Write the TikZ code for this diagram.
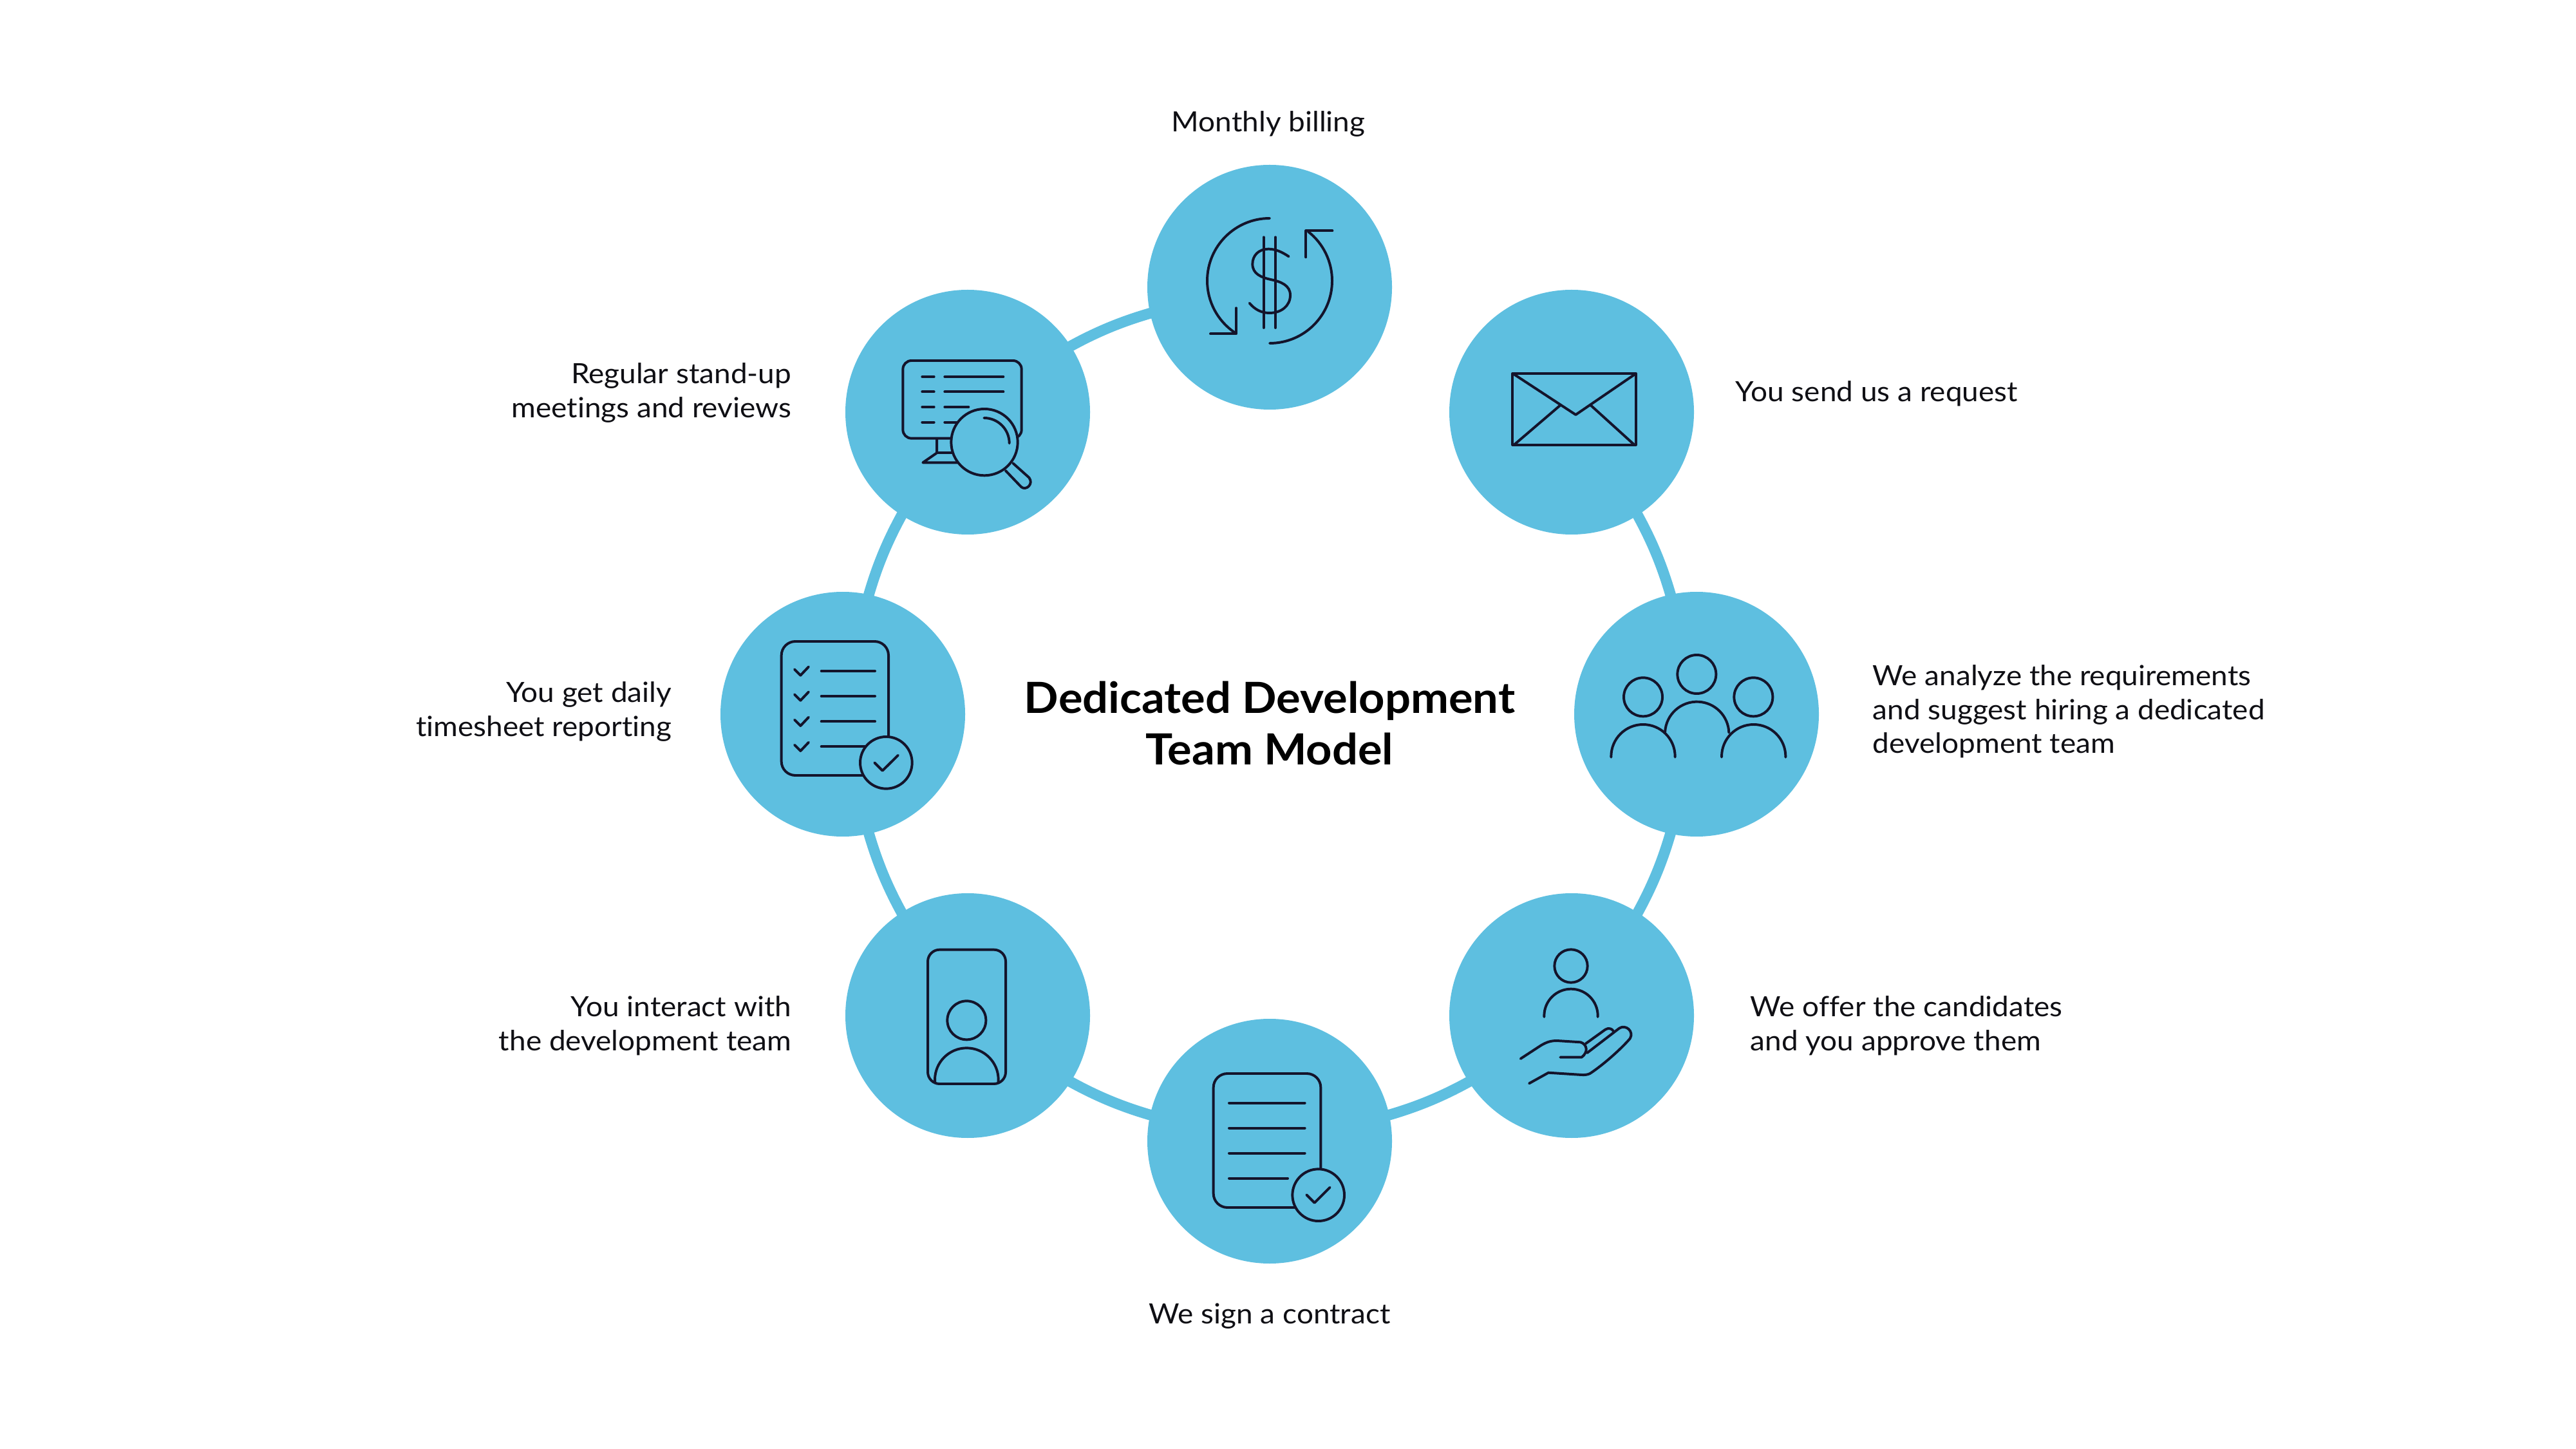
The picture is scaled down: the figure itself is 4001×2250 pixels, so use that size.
\documentclass[tikz,border=0pt]{standalone}
\usepackage{fontspec}
\setmainfont[FakeStretch=1.06,Ligatures=NoCommon]{Lato}
\newfontfamily\titlef[FakeStretch=1.057,Ligatures=NoCommon]{Lato}
\usetikzlibrary{backgrounds}
\definecolor{disc}{HTML}{5EBFE0}
\definecolor{ink}{HTML}{14142B}
\definecolor{txt}{HTML}{0F0F14}
\newcommand{\zarc}[5]{([shift={(#4:#3)}]#1,#2) arc (#4:#5:#3)}
\tikzset{
  disc node/.style={circle,fill=disc,draw=none,inner sep=0pt,minimum size=91.2pt},
  ring/.style={draw=disc,line width=4pt,looseness=1.21},
  label node/.style={inner sep=0pt,text=txt,font=\fontsize{10.4}{12.6}\selectfont},
  title node/.style={inner sep=0pt,text=black,align=center,font=\titlef\fontsize{16}{19.2}\selectfont\bfseries},
  icn/.style={shift={(#1)},x=0.08pt,y=-0.08pt},
  ic/.style={draw=ink,line width=0.95pt,line cap=round,line join=round},
  mask/.style={fill=disc,draw=ink,line width=0.95pt}
}
\begin{document}
\begin{tikzpicture}[x=0.24pt,y=-0.24pt]
\useasboundingbox (0,0) rectangle (4001,2250);
\node[disc node] (money) at (1972,446) {};
\node[disc node] (mail) at (2441,640) {};
\node[disc node] (team) at (2635,1109) {};
\node[disc node] (cand) at (2441,1577) {};
\node[disc node] (contract) at (1972,1772) {};
\node[disc node] (inter) at (1503,1577) {};
\node[disc node] (sheet) at (1309,1109) {};
\node[disc node] (meet) at (1503,640) {};
\begin{pgfonlayer}{background}
\fill[white] (0,0) rectangle (4001,2250);
\draw[ring] (mail.center) to[bend left=12] (team.center);
\draw[ring] (team.center) to[bend left=12] (cand.center);
\draw[ring] (cand.center) to[bend left=12] (contract.center);
\draw[ring] (contract.center) to[bend left=12] (inter.center);
\draw[ring] (inter.center) to[bend left=12] (sheet.center);
\draw[ring] (sheet.center) to[bend left=12] (meet.center);
\draw[ring] (meet.center) to[bend left=12] (money.center);
\end{pgfonlayer}
% labels
\node[title node] (title) at (1972,1123) {Dedicated Development\\Team Model};
\node[label node] (lmoney) at (1970,193) {Monthly billing};
\node[label node,anchor=west] (lmail) at (2695,611) {You send us a request};
\node[label node,anchor=west,align=left] (lteam) at (2908,1105) {We analyze the requirements\\and suggest hiring a dedicated\\development team};
\node[label node,anchor=west,align=left] (lcand) at (2718,1593) {We offer the candidates\\and you approve them};
\node[label node] (lcontract) at (1972,2044) {We sign a contract};
\node[label node,anchor=east,align=right] (linter) at (1230,1593) {You interact with\\the development team};
\node[label node,anchor=east,align=right] (lsheet) at (1044,1105) {You get daily\\timesheet reporting};
\node[label node,anchor=east,align=right] (lmeet) at (1230,610) {Regular stand-up\\meetings and reviews};
% money icon
\begin{scope}[icn={1760,240}]
\draw[ic] \zarc{636}{588}{291}{-90}{-235.6};
\draw[ic] (360,835) -- (480,835) -- (480,715);
\draw[ic] \zarc{636}{588}{291}{90}{-52};
\draw[ic] (805,478) -- (805,355) -- (928,355);
\draw[ic] (608,385) -- (608,807) (663,385) -- (663,807);
\draw[ic] (725,475) .. controls (695,455) and (665,440) .. (630,440) .. controls (585,440) and (556,470) .. (556,510) .. controls (556,555) and (595,572) .. (640,582) .. controls (690,592) and (732,610) .. (732,655) .. controls (732,705) and (690,738) .. (635,738) .. controls (595,738) and (565,720) .. (542,692);
\end{scope}
% meeting icon
\begin{scope}[icn={1300,440}]
\draw[ic,rounded corners=3.2pt] (307,360) rectangle (860,722);
\draw[ic] (465,725) -- (465,790) -- (400,835) -- (560,835);
\draw[ic] (465,790) -- (535,790);
\foreach \y in {435,505,576,647} \draw[ic] (397,\y) -- (452,\y);
\draw[ic] (502,435) -- (775,435) (502,505) -- (775,505) (502,576) -- (613,576) (502,647) -- (570,647);
\draw[mask] (687,740) circle (155);
\draw[ic] \zarc{685}{745}{118}{-90}{0};
\draw[ic] (785,872) -- (858,948) .. controls (880,968) and (918,935) .. (895,905) -- (820,838);
\end{scope}
% timesheet icon
\begin{scope}[icn={1110,910}]
\draw[ic,rounded corners=5.2pt] (311,258) rectangle (810,882);
\foreach \d in {0,117,235,352} \draw[ic] (372,388+\d) -- (400,416+\d) -- (438,376+\d);
\draw[ic] (497,396) -- (747,396) (497,513) -- (747,513) (497,631) -- (747,631) (497,748) -- (700,748);
\draw[mask] (799,823) circle (121);
\draw[ic] (745,823) -- (782,860) -- (855,788);
\end{scope}
% interact icon
\begin{scope}[icn={1300,1370}]
\draw[ic,rounded corners=4.4pt] (423,314) rectangle (786,939);
\draw[ic] (604,643) circle (90);
\draw[ic] (456,930) -- \zarc{604}{920}{148}{-180}{0} -- (752,930);
\end{scope}
% contract icon
\begin{scope}[icn={1760,1560}]
\draw[ic,rounded corners=5.2pt] (374,321) rectangle (874,945);
\draw[ic] (447,458) -- (800,458) (447,575) -- (800,575) (447,692) -- (800,692) (447,809) -- (720,809);
\draw[mask] (863,887) circle (121);
\draw[ic] (808,886) -- (845,923) -- (917,851);
\end{scope}
% candidates icon
\begin{scope}[icn={2230,1370}]
\draw[ic] (630,390) circle (77);
\draw[ic] (505,627) -- \zarc{630}{622}{125}{-180}{0} -- (755,627);
\draw[ic] (395,822) -- (490,760) .. controls (520,742) and (540,738) .. (565,738) -- (675,745) .. controls (705,755) and (712,790) .. (680,815) -- (580,815);
\draw[ic] (698,752) -- (790,686) .. controls (805,676) and (822,682) .. (828,694);
\draw[ic] (705,795) -- (855,680) .. controls (885,660) and (925,695) .. (905,728) .. controls (860,780) and (780,850) .. (720,890) .. controls (710,896) and (695,898) .. (680,897) -- (525,887) -- (435,937);
\end{scope}
% team icon
\begin{scope}[icn={2430,910}]
\draw[ic] (366,517) circle (90) (616,411) circle (90) (880,517) circle (90);
\draw[ic] (217,797) -- \zarc{366}{794}{149}{-180}{0} -- (515,797);
\draw[ic] \zarc{617}{688}{149}{-177}{-2};
\draw[ic] (732,797) -- \zarc{881}{794}{149}{-180}{0} -- (1030,797);
\end{scope}
% mail icon
\begin{scope}[icn={2230,440}]
\draw[ic] (358,420) rectangle (932,752);
\draw[ic] (362,422) -- (652,612) -- (930,422);
\draw[ic] (365,752) -- (580,568) (925,752) -- (722,568);
\end{scope}
\end{tikzpicture}
\end{document}
